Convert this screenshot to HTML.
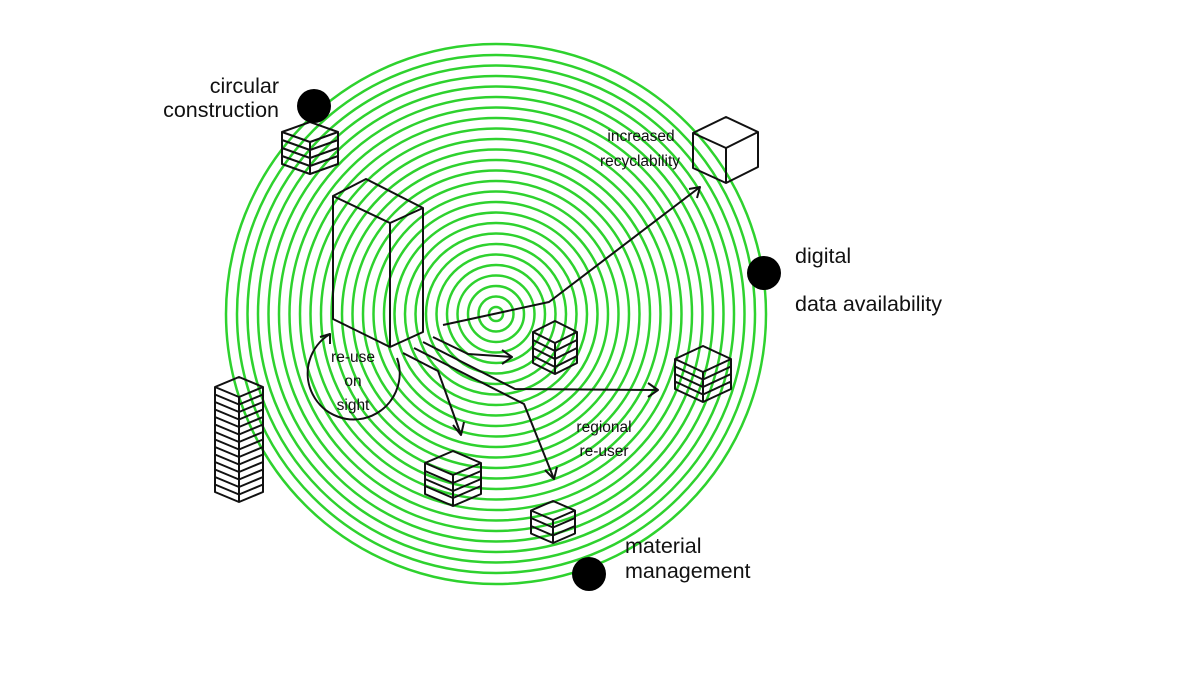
<!DOCTYPE html>
<html><head><meta charset="utf-8"><style>
html,body{margin:0;padding:0;background:#fff;}
svg{display:block;}
text{font-family:"Liberation Sans",sans-serif;fill:#111;}
</style></head><body>
<svg width="1200" height="675" viewBox="0 0 1200 675" xmlns="http://www.w3.org/2000/svg">
<rect width="1200" height="675" fill="#fff"/>
<g fill="none" stroke="#2ed22e" stroke-width="2.5">
<circle cx="496" cy="314" r="7"/><circle cx="496" cy="314" r="17.5"/><circle cx="496" cy="314" r="28"/><circle cx="496" cy="314" r="38.5"/><circle cx="496" cy="314" r="49"/><circle cx="496" cy="314" r="59.5"/><circle cx="496" cy="314" r="70"/><circle cx="496" cy="314" r="80.5"/><circle cx="496" cy="314" r="91"/><circle cx="496" cy="314" r="101.5"/><circle cx="496" cy="314" r="112"/><circle cx="496" cy="314" r="122.5"/><circle cx="496" cy="314" r="133"/><circle cx="496" cy="314" r="143.5"/><circle cx="496" cy="314" r="154"/><circle cx="496" cy="314" r="164.5"/><circle cx="496" cy="314" r="175"/><circle cx="496" cy="314" r="185.5"/><circle cx="496" cy="314" r="196"/><circle cx="496" cy="314" r="206.5"/><circle cx="496" cy="314" r="217"/><circle cx="496" cy="314" r="227.5"/><circle cx="496" cy="314" r="238"/><circle cx="496" cy="314" r="248.5"/><circle cx="496" cy="314" r="259"/><circle cx="496" cy="314" r="270"/>
</g>
<g fill="none" stroke="#111" stroke-width="2" stroke-linejoin="round">
<path d="M366,179 L333,196 L390,223 L423,208 Z M333,196 L333,319 L390,347 L423,332 L423,208 M390,223 L390,347"/>
<path d="M310,142 L282,132 L310,122 L338,132 Z M282,132 V164 L310,174 L338,164 V132 M310,142 V174 M282,140 L310,150 L338,140 M282,148 L310,158 L338,148 M282,156 L310,166 L338,156"/>
<path d="M555,343 L533,332 L555,321 L577,332 Z M533,332 V363 L555,374 L577,363 V332 M555,343 V374 M533,340 L555,351 L577,340 M533,348 L555,359 L577,348 M533,356 L555,367 L577,356"/>
<path d="M703,372 L675,359 L703,346 L731,359 Z M675,359 V389 L703,402 L731,389 V359 M703,372 V402 M675,366.5 L703,379.5 L731,366.5 M675,374 L703,387 L731,374 M675,381.5 L703,394.5 L731,381.5"/>
<path d="M453,475 L425,463 L453,451 L481,463 Z M425,463 V494 L453,506 L481,494 V463 M453,475 V506 M425,471 L453,483 L481,471 M425,479 L453,491 L481,479 M425,486 L453,498 L481,486"/>
<path d="M553,520 L531,510.5 L553,501 L575,510.5 Z M531,510.5 V533.5 L553,543 L575,533.5 V510.5 M553,520 V543 M531,518 L553,527.5 L575,518 M531,526 L553,535.5 L575,526"/>
<path d="M239,397 L215,387 L239,377 L263,387 Z M215,387 V492 L239,502 L263,492 V387 M239,397 V502
M215,394.5 L239,404.5 L263,394.5 M215,402 L239,412 L263,402 M215,409.5 L239,419.5 L263,409.5 M215,417 L239,427 L263,417 M215,424.5 L239,434.5 L263,424.5 M215,432 L239,442 L263,432 M215,439.5 L239,449.5 L263,439.5 M215,447 L239,457 L263,447 M215,454.5 L239,464.5 L263,454.5 M215,462 L239,472 L263,462 M215,469.5 L239,479.5 L263,469.5 M215,477 L239,487 L263,477 M215,484.5 L239,494.5 L263,484.5"/>
<path d="M726,148 L693,133 L726,117 L758,132 Z M693,133 V168 L726,183 L758,167 V132 M726,148 V183"/>
<path d="M443,325 L549,302 L700,187"/>
<path d="M689,189 L700,187 L697,198"/>
<path d="M433,337 L468,354 L512,357"/>
<path d="M502,350 L512,357 L502,364"/>
<path d="M423,342 L515,389 L658,390"/>
<path d="M648,383 L658,390 L648,397"/>
<path d="M414,348 L524,404 L554,479"/>
<path d="M545,470 L554,479 L557,467"/>
<path d="M403,353 L438,371 L461,435"/>
<path d="M453,425 L461,435 L464,422"/>
<path d="M397,358 A46,46 0 1 1 330,334"/>
<path d="M320,337 L330,334 L330,344"/>
</g>
<g fill="#000">
<circle cx="314" cy="106" r="17"/>
<circle cx="764" cy="273" r="17"/>
<circle cx="589" cy="574" r="17"/>
</g>
<g font-size="21.5">
<text x="279" y="93" text-anchor="end">circular</text>
<text x="279" y="117" text-anchor="end">construction</text>
<text x="795" y="263">digital</text>
<text x="795" y="311">data availability</text>
<text x="625" y="553">material</text>
<text x="625" y="578">management</text>
</g>
<g font-size="15.5" text-anchor="middle">
<text x="641" y="141">increased</text>
<text x="640" y="166">recyclability</text>
<text x="604" y="432">regional</text>
<text x="604" y="456">re-user</text>
<text x="353" y="362">re-use</text>
<text x="353" y="386">on</text>
<text x="353" y="410">sight</text>
</g>
</svg>
</body></html>
